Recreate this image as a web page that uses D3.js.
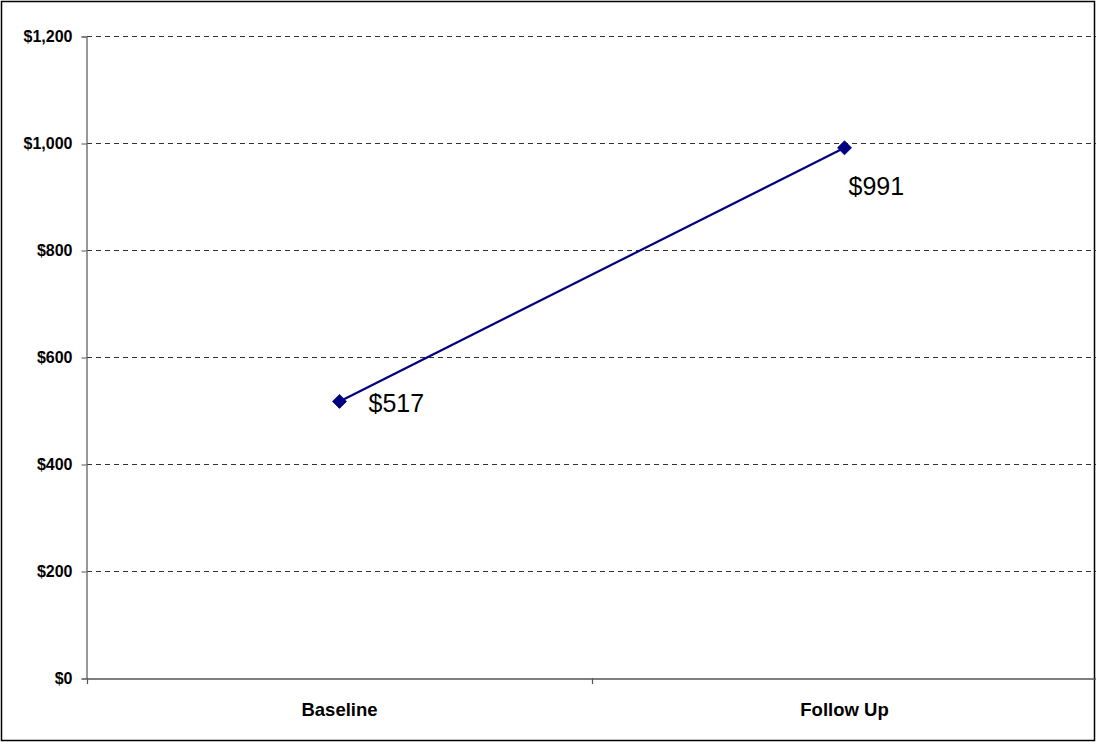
<!DOCTYPE html>
<html>
<head>
<meta charset="utf-8">
<script src="https://cdn.jsdelivr.net/npm/d3@7"></script>
<style>
  html, body { margin: 0; padding: 0; background: #fff; }
  svg { display: block; }
  text { font-family: Arial, "Liberation Sans", sans-serif; }
</style>
</head>
<body>
<svg id="chart" width="1096" height="742"></svg>
<script>
// Average amount at each time point
const categories = ["Baseline", "Follow Up"];
const values = [517, 991];
const yTicks = [0, 200, 400, 600, 800, 1000, 1200];
const valueLabels = ["$517", "$991"];

const W = 1096, H = 742;
const margin = { left: 87, top: 36, right: -1, bottom: 64 };

const svg = d3.select("#chart");

// outer frame
svg.append("rect")
  .attr("x", 1.5).attr("y", 1.5)
  .attr("width", W - 3).attr("height", H - 3)
  .attr("fill", "#fff").attr("stroke", "#000").attr("stroke-width", 1.5);

const x = d3.scaleBand()
  .domain(categories)
  .range([margin.left, W - margin.right])
  .paddingInner(0).paddingOuter(0);

const y = d3.scaleLinear()
  .domain([0, 1200])
  .range([H - margin.bottom, margin.top]);

const fmt = v => "$" + d3.format(",")(v);

// horizontal dashed gridlines
svg.append("g")
  .selectAll("line")
  .data(yTicks.filter(d => d > 0))
  .join("line")
  .attr("x1", margin.left).attr("x2", W - margin.right)
  .attr("y1", d => Math.round(y(d)) + 0.5).attr("y2", d => Math.round(y(d)) + 0.5)
  .attr("stroke", "#333").attr("stroke-width", 1)
  .attr("stroke-dasharray", "5,4");

// y axis
const yAxis = svg.append("g")
  .attr("transform", `translate(${margin.left - 0.5},0.5)`)
  .call(d3.axisLeft(y).tickValues(yTicks).tickFormat(fmt).tickSize(5).tickPadding(9));
yAxis.select(".domain").attr("stroke", "#555").attr("stroke-width", 1.2);
yAxis.selectAll(".tick line").attr("stroke", "#555");
yAxis.selectAll(".tick text")
  .attr("font-size", 16).attr("font-weight", "bold").attr("fill", "#000")
  .attr("font-family", "Arial, 'Liberation Sans', sans-serif");

// x axis
const xAxis = svg.append("g")
  .attr("transform", `translate(0,${Math.round(y(0)) + 0.5})`)
  .call(d3.axisBottom(x).tickSize(0).tickPadding(24));
xAxis.select(".domain").attr("stroke", "#555").attr("stroke-width", 1.6);
xAxis.selectAll(".tick text")
  .attr("font-size", 18.5).attr("font-weight", "bold").attr("fill", "#000")
  .attr("font-family", "Arial, 'Liberation Sans', sans-serif");

// category separators
const bounds = categories.slice(1).map(c => x(c));
bounds.push(margin.left);
svg.append("g")
  .selectAll("line")
  .data(bounds)
  .join("line")
  .attr("x1", d => Math.round(d) + 0.5).attr("x2", d => Math.round(d) + 0.5)
  .attr("y1", y(0)).attr("y2", y(0) + 6)
  .attr("stroke", "#555").attr("stroke-width", 1.2);

const cx = c => x(c) + x.bandwidth() / 2;

// series line
const pts = categories.map((c, i) => [cx(c), y(values[i])]);
svg.append("path")
  .attr("d", d3.line()(pts))
  .attr("fill", "none").attr("stroke", "#000080").attr("stroke-width", 2.2);

// diamond markers
svg.append("g")
  .selectAll("path")
  .data(pts)
  .join("path")
  .attr("transform", d => `translate(${d[0]},${d[1]})`)
  .attr("d", d3.symbol().type(d3.symbolDiamond2).size(125))
  .attr("fill", "#000080").attr("stroke", "#000080").attr("stroke-width", 0.8);

// value labels
svg.append("g")
  .selectAll("text")
  .data(pts)
  .join("text")
  .attr("x", (d, i) => d[0] + (i === 0 ? 29 : 4))
  .attr("y", (d, i) => d[1] + (i === 0 ? 11 : 47))
  .attr("font-size", 25).attr("fill", "#000")
  .text((d, i) => valueLabels[i]);
</script>
</body>
</html>
